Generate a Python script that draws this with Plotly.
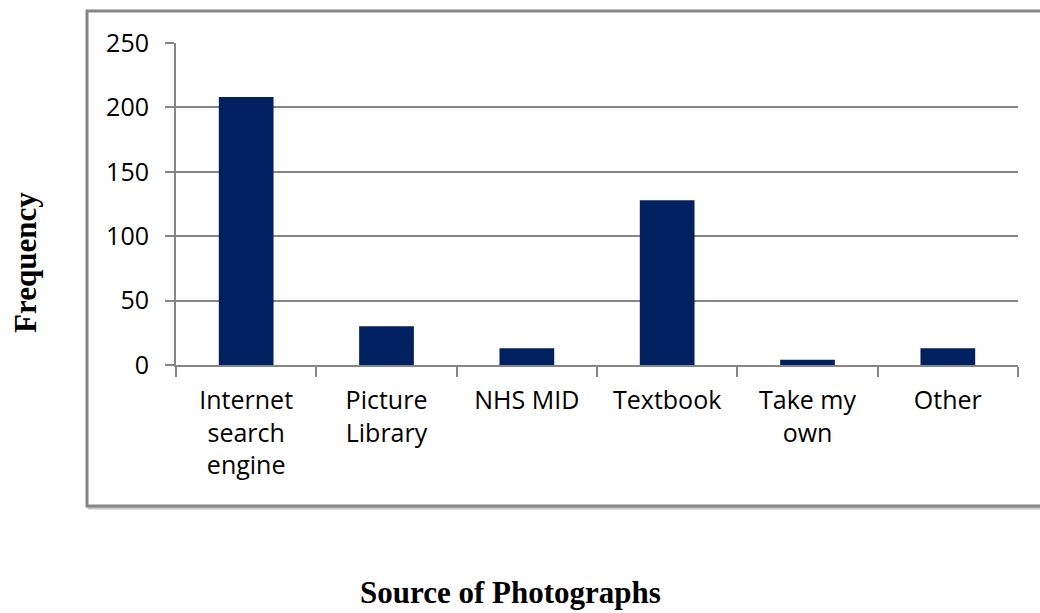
import plotly.graph_objects as go

categories = ["Internet<br>search<br>engine", "Picture<br>Library", "NHS MID",
              "Textbook", "Take my<br>own", "Other"]
frequency = [208, 30, 13, 128, 4, 13]
y_ticks = [0, 50, 100, 150, 200, 250]

W, H = 1040, 613
navy = "#002060"
grey = "#868686"

fig = go.Figure()
fig.add_trace(go.Bar(
    x=categories, y=frequency,
    marker=dict(color=navy, line=dict(width=0)),
    width=0.39,
))

fig.update_layout(
    width=W, height=H,
    margin=dict(l=0, r=0, t=0, b=0, pad=0, autoexpand=False),
    paper_bgcolor="white", plot_bgcolor="white",
    showlegend=False,
    font=dict(family="Open Sans", size=25, color="#000000"),
    xaxis=dict(
        domain=[176 / W, 1018 / W],
        type="category",
        tickson="boundaries",
        ticks="outside", ticklen=10, tickwidth=2, tickcolor=grey,
        showline=True, linecolor=grey, linewidth=2,
        showgrid=False,
        tickfont=dict(family="Open Sans", size=25),
        tickangle=0,
        ticklabelstandoff=12,
        automargin=False,
    ),
    yaxis=dict(
        domain=[(H - 365) / H, (H - 43) / H],
        range=[0, 250],
        tickvals=y_ticks,
        ticks="outside", ticklen=9, tickwidth=2, tickcolor=grey,
        showline=True, linecolor=grey, linewidth=2,
        showgrid=True, gridcolor=grey, gridwidth=2,
        zeroline=False,
        tickfont=dict(family="Open Sans", size=25),
        ticklabelstandoff=11,
        automargin=False,
    ),
    shapes=[
        # outer chart frame with a faint drop shadow
        dict(type="rect", xref="paper", yref="paper",
             x0=89 / W, x1=1047 / W, y0=(H - 508) / H, y1=(H - 13) / H,
             line=dict(color="#c8c8c8", width=3), fillcolor="rgba(0,0,0,0)",
             layer="below"),
        dict(type="rect", xref="paper", yref="paper",
             x0=87 / W, x1=1045 / W, y0=(H - 506) / H, y1=(H - 11) / H,
             line=dict(color=grey, width=3), fillcolor="white",
             layer="below"),
    ],
    annotations=[
        dict(text="<b>Frequency</b>", xref="paper", yref="paper",
             x=25 / W, y=(H - 263) / H, showarrow=False, textangle=-90,
             font=dict(family="Liberation Serif", size=31, color="#000000"),
             xanchor="center", yanchor="middle"),
        dict(text="<b>Source of Photographs</b>", xref="paper", yref="paper",
             x=510 / W, y=(H - 592) / H, showarrow=False,
             font=dict(family="Liberation Serif", size=31, color="#000000"),
             xanchor="center", yanchor="middle"),
    ],
)

fig.write_html("out.html")
